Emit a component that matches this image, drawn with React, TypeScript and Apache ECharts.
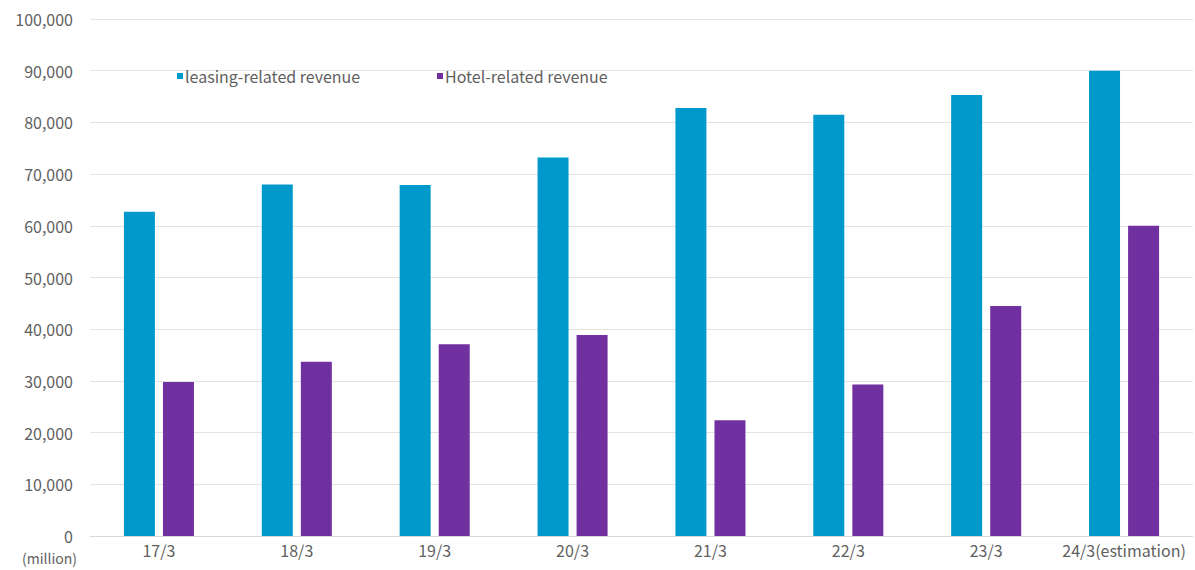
import React, { useEffect, useRef } from "react";
import * as echarts from "echarts";

const categories = ["17/3", "18/3", "19/3", "20/3", "21/3", "22/3", "23/3", "24/3(estimation)"];
const leasingRevenue = [62700, 68000, 67900, 73200, 82800, 81500, 85300, 90000];
const hotelRevenue = [29800, 33700, 37100, 38900, 22400, 29300, 44500, 60000];
const leasingName = "leasing-related revenue";
const hotelName = "Hotel-related revenue";
const unitLabel = "(million)";

const FONT = "'Noto Sans CJK JP', 'Noto Sans', sans-serif";
const TEXT = "#5f5f5f";

export default function App() {
  const ref = useRef<HTMLDivElement>(null);
  useEffect(() => {
    if (!ref.current) return;
    const chart = echarts.init(ref.current, undefined, { renderer: "svg" });
    chart.setOption({
      animation: false,
      textStyle: { fontFamily: FONT },
      grid: { left: 90, right: 2, top: 19, bottom: 34, containLabel: false },
      legend: [
        {
          data: [leasingName],
          left: 177,
          top: 68,
          icon: "rect",
          itemWidth: 6,
          itemHeight: 6,
          padding: 0,
          textStyle: { color: TEXT, fontSize: 16, fontFamily: FONT, padding: [0, 0, 0, -3] },
        },
        {
          data: [hotelName],
          left: 437,
          top: 68,
          icon: "rect",
          itemWidth: 6,
          itemHeight: 6,
          padding: 0,
          textStyle: { color: TEXT, fontSize: 16, fontFamily: FONT, padding: [0, 0, 0, -3] },
        },
      ],
      xAxis: {
        type: "category",
        data: categories,
        axisLine: { show: true, lineStyle: { color: "#d9d9d9" } },
        axisTick: { show: false },
        axisLabel: { color: TEXT, fontSize: 16, margin: 6, fontFamily: FONT, interval: 0 },
      },
      yAxis: {
        type: "value",
        min: 0,
        max: 100000,
        interval: 10000,
        axisLine: { show: false },
        axisTick: { show: false },
        splitLine: { lineStyle: { color: "#e3e3e3", width: 1 } },
        axisLabel: {
          color: TEXT,
          fontSize: 16,
          margin: 17,
          fontFamily: FONT,
          formatter: (v: number) => v.toLocaleString("en-US"),
        },
      },
      graphic: [
        {
          type: "text",
          left: 22,
          top: 551,
          style: { text: unitLabel, fill: TEXT, fontSize: 14, fontFamily: FONT },
        },
      ],
      series: [
        {
          name: leasingName,
          type: "bar",
          data: leasingRevenue,
          barWidth: 31,
          barGap: "26%",
          itemStyle: { color: "#0099CC" },
        },
        {
          name: hotelName,
          type: "bar",
          data: hotelRevenue,
          barWidth: 31,
          barGap: "26%",
          itemStyle: { color: "#7030A0" },
        },
      ],
    });
    return () => chart.dispose();
  }, []);
  return <div ref={ref} style={{ width: 1195, height: 570, position: "absolute", left: 0, top: 0 }} />;
}
